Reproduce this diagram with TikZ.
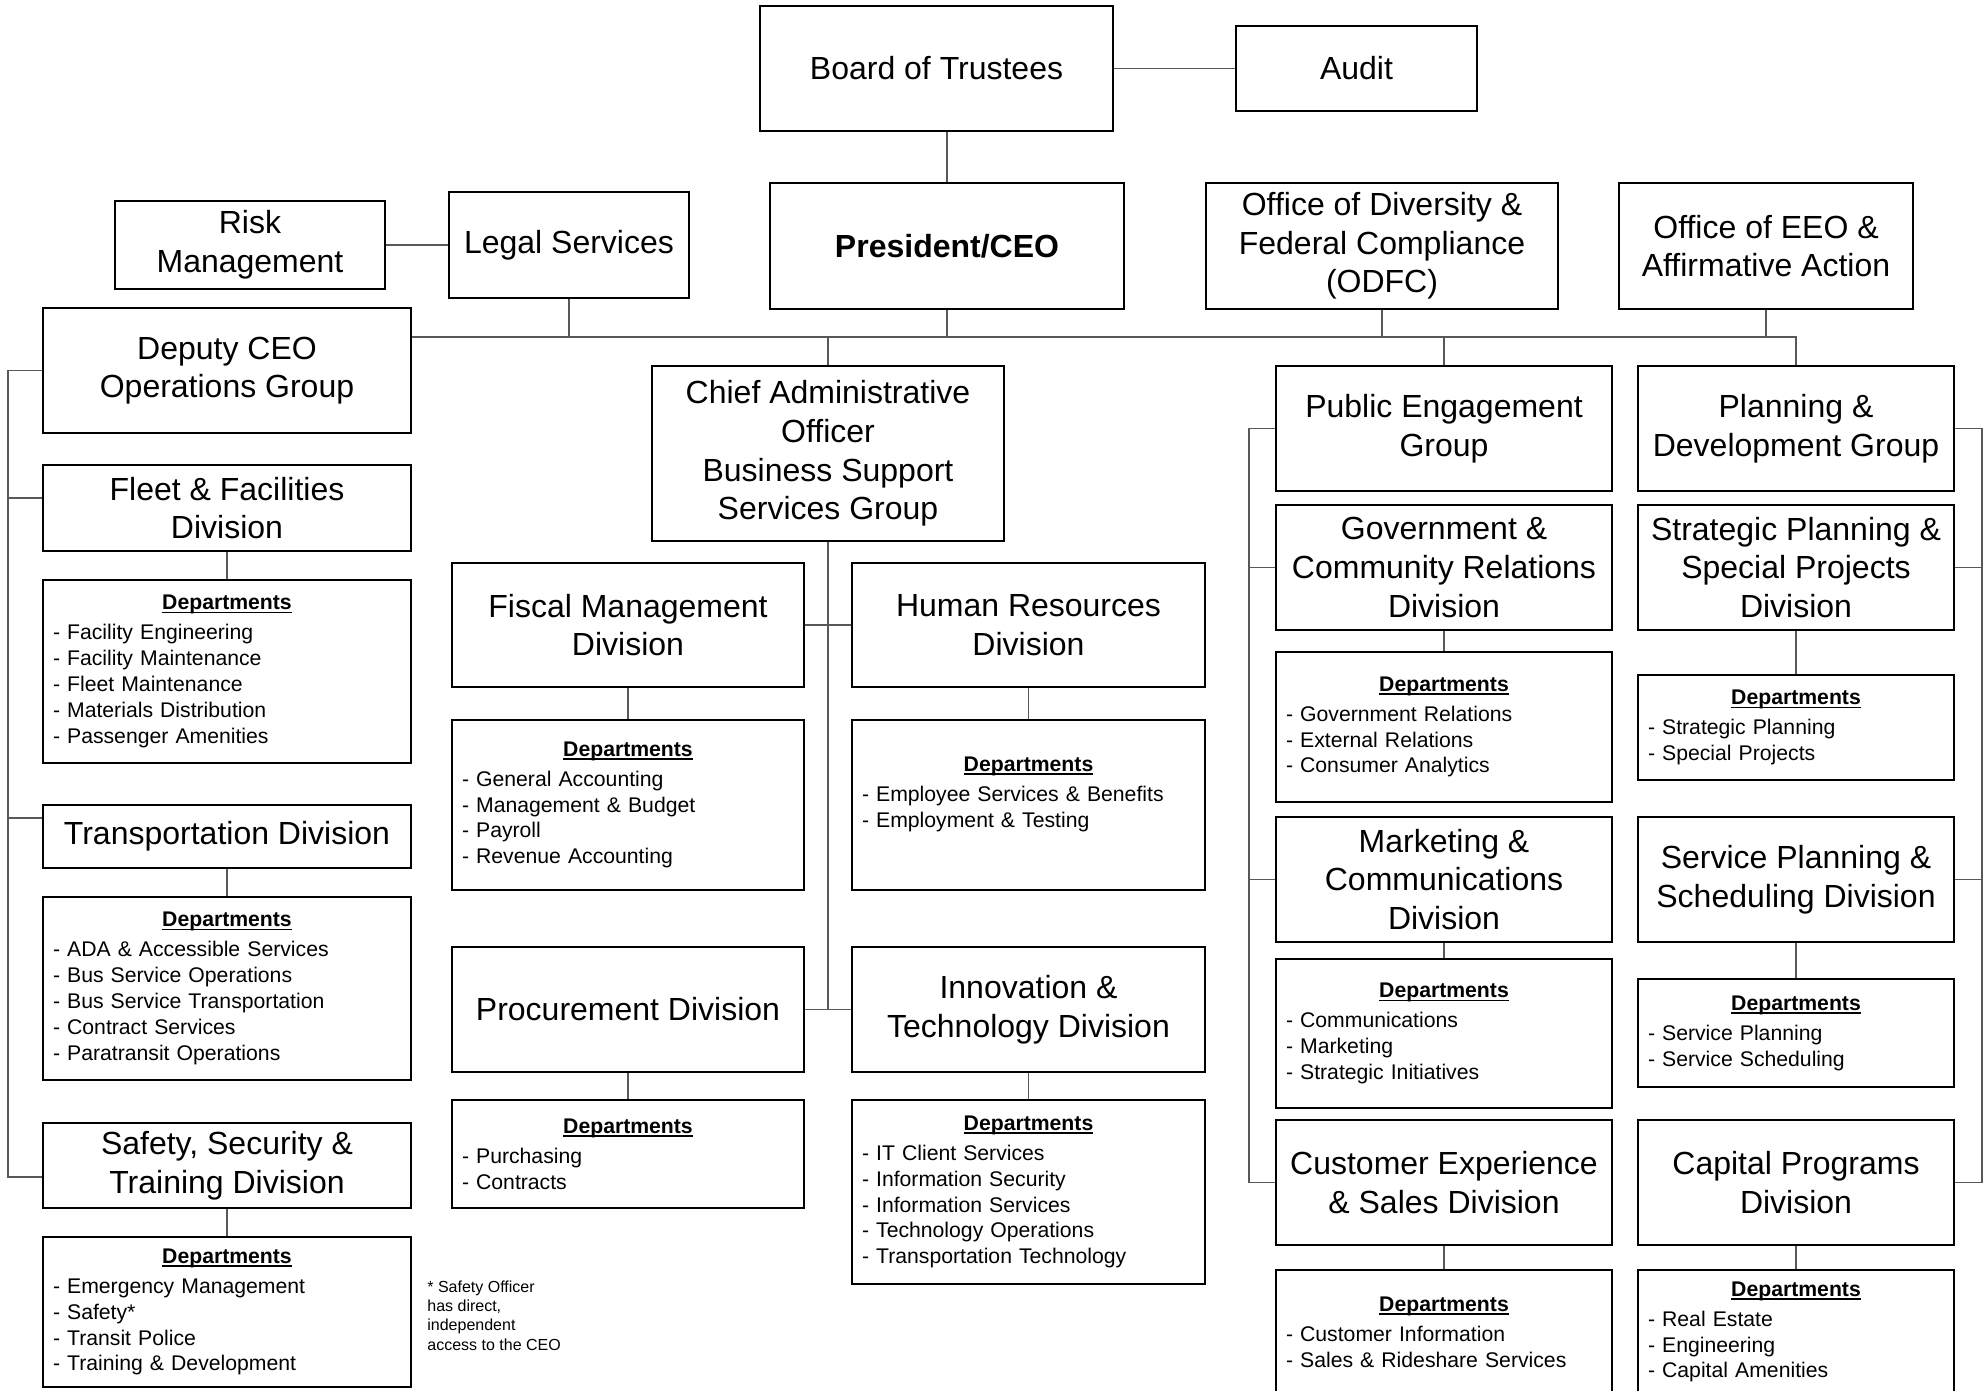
\documentclass[tikz,border=0pt]{standalone}
\usepackage{fontspec}
\setmainfont{Liberation Sans}
\usepackage{tikz}
\usetikzlibrary{positioning,calc}
\definecolor{linkgray}{RGB}{88,88,88}
\newcommand{\deptul}[1]{\setbox0\hbox{#1}\rlap{\rule[-1.7pt]{\wd0}{0.75pt}}\box0}
\newcommand{\depthead}{\makebox[\hsize]{\deptul{\textbf{Departments}}}\\[2pt]}

\begin{document}
\begin{tikzpicture}[
    x=0.5pt, y=-0.5pt,
    box/.style={rectangle, draw=black, line width=1.1pt, inner sep=0pt, align=center, font=\fontsize{16}{19.3}\selectfont},
    dept/.style={rectangle, draw=black, line width=1.1pt, inner xsep=5pt, inner ysep=0pt, text width=#1, align=left, font=\fontsize{10.6}{12.95}\selectfont},
    link/.style={draw=linkgray, line width=0.65pt},
    note/.style={inner sep=0pt, align=left, font=\fontsize{8}{9.7}\selectfont}
]
    \useasboundingbox (0,0) rectangle (1986,1391);
    \clip (0,0) rectangle (1986,1391);

    % board and staff offices
    \node[box, minimum width=176.5pt, minimum height=62.5pt] (board) at (936.5,68.5) {Board of Trustees};
    \node[box, minimum width=120.5pt, minimum height=42.5pt] (audit) at (1356.5,68.5) {Audit};
    \node[box, minimum width=135pt, minimum height=44pt] (risk) at (250,245) {Risk\\Management};
    \node[box, minimum width=120pt, minimum height=53pt] (legal) at (569,245) {Legal Services};
    \node[box, minimum width=177pt, minimum height=63pt, font=\fontsize{16}{19.3}\selectfont\bfseries] (ceo) at (947,246) {President/CEO};
    \node[box, minimum width=176pt, minimum height=63pt] (odfc) at (1382,246) {Office of Diversity \&\\Federal Compliance\\(ODFC)};
    \node[box, minimum width=147pt, minimum height=63pt] (eeo) at (1766,246) {Office of EEO \&\\Affirmative Action};

    % groups
    \node[box, minimum width=184pt, minimum height=62.5pt] (deputy) at (227,370.5) {Deputy CEO\\Operations Group};
    \node[box, minimum width=176pt, minimum height=87.5pt] (cao) at (828,453.5) {Chief Administrative\\Officer\\Business Support\\Services Group};
    \node[box, minimum width=168pt, minimum height=62.5pt] (pubeng) at (1444,428.5) {Public Engagement\\Group};
    \node[box, minimum width=158pt, minimum height=62.5pt] (plandev) at (1796,428.5) {Planning \&\\Development Group};

    % operations
    \node[box, minimum width=184pt, minimum height=43pt] (fleet) at (227,508) {Fleet \& Facilities\\Division};
    \node[dept=174pt, minimum height=91.5pt] (fleetdep) at (227,671.5) {\depthead - Facility Engineering\\- Facility Maintenance\\- Fleet Maintenance\\- Materials Distribution\\- Passenger Amenities};
    \node[box, minimum width=184pt, minimum height=31.5pt] (transp) at (227,836.5) {Transportation Division};
    \node[dept=174pt, minimum height=91.5pt] (transpdep) at (227,988.5) {\depthead - ADA \& Accessible Services\\- Bus Service Operations\\- Bus Service Transportation\\- Contract Services\\- Paratransit Operations};
    \node[box, minimum width=184pt, minimum height=42.5pt] (safety) at (227,1165.5) {Safety, Security \&\\Training Division};
    \node[dept=174pt, minimum height=75pt] (safetydep) at (227,1312) {\depthead - Emergency Management\\- Safety*\\- Transit Police\\- Training \& Development};
    \node[note, anchor=north west] (note) at (427,1280) {* Safety Officer\\has direct,\\independent\\access to the CEO};

    % business support
    \node[box, minimum width=176pt, minimum height=62pt] (fiscal) at (628,625) {Fiscal Management\\Division};
    \node[dept=166pt, minimum height=85pt] (fiscaldep) at (628,805) {\depthead - General Accounting\\- Management \& Budget\\- Payroll\\- Revenue Accounting};
    \node[box, minimum width=176.5pt, minimum height=62pt] (hr) at (1028.5,625) {Human Resources\\Division};
    \node[dept=166.5pt, minimum height=85pt] (hrdep) at (1028.5,805) {\depthead - Employee Services \& Benefits\\- Employment \& Testing\\~};
    \node[box, minimum width=176pt, minimum height=62.5pt] (procure) at (628,1009.5) {Procurement Division};
    \node[dept=166pt, minimum height=54pt] (procuredep) at (628,1154) {\depthead - Purchasing\\- Contracts};
    \node[box, minimum width=176.5pt, minimum height=62.5pt] (innov) at (1028.5,1009.5) {Innovation \&\\Technology Division};
    \node[dept=166.5pt, minimum height=92pt] (innovdep) at (1028.5,1192) {\depthead - IT Client Services\\- Information Security\\- Information Services\\- Technology Operations\\- Transportation Technology};

    % public engagement
    \node[box, minimum width=168pt, minimum height=62.5pt] (govrel) at (1444,567.5) {Government \&\\Community Relations\\Division};
    \node[dept=158pt, minimum height=75pt] (govreldep) at (1444,727) {\depthead - Government Relations\\- External Relations\\- Consumer Analytics};
    \node[box, minimum width=168pt, minimum height=62.5pt] (mktg) at (1444,879.5) {Marketing \&\\Communications\\Division};
    \node[dept=158pt, minimum height=74.5pt] (mktgdep) at (1444,1033.5) {\depthead - Communications\\- Marketing\\- Strategic Initiatives};
    \node[box, minimum width=168pt, minimum height=62.5pt] (custexp) at (1444,1182.5) {Customer Experience\\\& Sales Division};
    \node[dept=158pt, minimum height=62pt] (custexpdep) at (1444,1332) {\depthead - Customer Information\\- Sales \& Rideshare Services};

    % planning and development
    \node[box, minimum width=158pt, minimum height=62.5pt] (stratplan) at (1796,567.5) {Strategic Planning \&\\Special Projects\\Division};
    \node[dept=148pt, minimum height=52.5pt] (stratplandep) at (1796,727.5) {\depthead - Strategic Planning\\- Special Projects};
    \node[box, minimum width=158pt, minimum height=62.5pt] (svcplan) at (1796,879.5) {Service Planning \&\\Scheduling Division};
    \node[dept=148pt, minimum height=54pt] (svcplandep) at (1796,1033) {\depthead - Service Planning\\- Service Scheduling};
    \node[box, minimum width=158pt, minimum height=62.5pt] (capprog) at (1796,1182.5) {Capital Programs\\Division};
    \node[dept=148pt, minimum height=62pt] (capprogdep) at (1796,1332) {\depthead - Real Estate\\- Engineering\\- Capital Amenities};

    % connectors
    \coordinate (bus) at (0,337);
    \coordinate (lsp) at (8,0);
    \coordinate (rsp) at (1249,0);
    \coordinate (esp) at (1982,0);
    \coordinate (fleetin) at ([yshift=5pt]fleet.west);
    \coordinate (transpin) at ([yshift=9.25pt]transp.west);
    \coordinate (safetyin) at ([yshift=-5.75pt]safety.west);

    \draw[link] (board) -- (audit);
    \draw[link] (risk) -- (legal);
    \draw[link] (board.south -| ceo.north) -- (ceo.north);
    \draw[link] (deputy.east |- bus) -- (plandev.north |- bus) -- (plandev.north);
    \draw[link] (legal.south) -- (legal.south |- bus);
    \draw[link] (ceo.south) -- (ceo.south |- bus);
    \draw[link] (odfc.south) -- (odfc.south |- bus);
    \draw[link] (eeo.south) -- (eeo.south |- bus);
    \draw[link] (cao.north) -- (cao.north |- bus);
    \draw[link] (pubeng.north) -- (pubeng.north |- bus);

    \draw[link] (deputy.west) -- (deputy.west -| lsp) |- (safetyin);
    \draw[link] (fleetin -| lsp) -- (fleetin);
    \draw[link] (transpin -| lsp) -- (transpin);

    \draw[link] (cao.south) -- (cao.south |- procure.east);
    \draw[link] (fiscal) -- (hr);
    \draw[link] (procure) -- (innov);

    \draw[link] (pubeng.west) -- (pubeng.west -| rsp) |- (custexp.west);
    \draw[link] (govrel.west -| rsp) -- (govrel.west);
    \draw[link] (mktg.west -| rsp) -- (mktg.west);
    \draw[link] (plandev.east) -- (plandev.east -| esp) |- (capprog.east);
    \draw[link] (stratplan.east -| esp) -- (stratplan.east);
    \draw[link] (svcplan.east -| esp) -- (svcplan.east);

    \draw[link] (fleet) -- (fleetdep);
    \draw[link] (transp) -- (transpdep);
    \draw[link] (safety) -- (safetydep);
    \draw[link] (fiscal) -- (fiscaldep);
    \draw[link] (hr) -- (hrdep);
    \draw[link] (procure) -- (procuredep);
    \draw[link] (innov) -- (innovdep);
    \draw[link] (govrel) -- (govreldep);
    \draw[link] (mktg) -- (mktgdep);
    \draw[link] (custexp) -- (custexpdep);
    \draw[link] (stratplan) -- (stratplandep);
    \draw[link] (svcplan) -- (svcplandep);
    \draw[link] (capprog) -- (capprogdep);
\end{tikzpicture}
\end{document}
